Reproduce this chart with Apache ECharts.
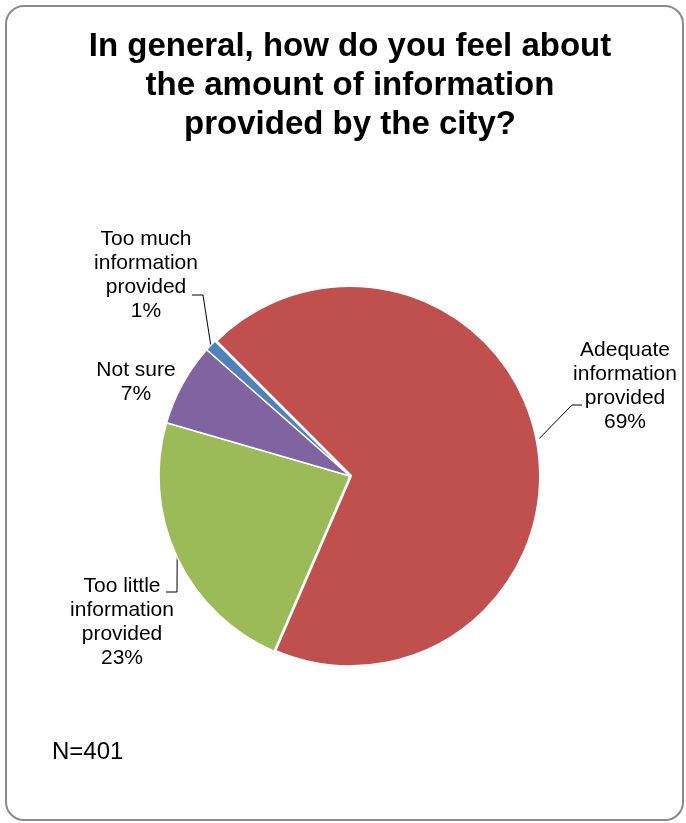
<!DOCTYPE html>
<html>
<head>
<meta charset="utf-8">
<script src="https://cdn.jsdelivr.net/npm/echarts@6/dist/echarts.min.js"></script>
<style>
  html, body { margin: 0; padding: 0; background: #ffffff; }
  #chart { width: 686px; height: 823px; }
</style>
</head>
<body>
<div id="chart"></div>
<script>
// Survey answers, in drawing order (clockwise)
const categories = [
  'Adequate\ninformation\nprovided',
  'Too little\ninformation\nprovided',
  'Not sure',
  'Too much\ninformation\nprovided'
];
const percents = [69, 23, 7, 1];
const sliceColors = ['#C0504D', '#9BBB59', '#8064A2', '#4F81BD'];
const titleText = 'In general, how do you feel about\nthe amount of information\nprovided by the city?';
const sampleNote = 'N=401';

// Where each label block sits, and how its leader line bends before reaching it
const labelSpots = [
  { x: 625, y: 386, elbow: [572, 405], end: [582, 405] },
  { x: 122, y: 622, elbow: [177, 592], end: [166, 592] },
  { x: 136, y: 382, elbow: null, end: null },
  { x: 146, y: 275, elbow: [203, 295], end: [192, 295] }
];
// The large slice is set slightly apart from the rest by a wider white edge
const sliceEdges = [4, 1.5, 1.5, 1.5];

const fontFamily = '"Liberation Sans", Arial, Helvetica, sans-serif';

const chart = echarts.init(document.getElementById('chart'), null, { renderer: 'canvas' });

const seriesData = categories.map((name, i) => ({
  name: name,
  value: percents[i],
  itemStyle: { color: sliceColors[i], borderColor: '#ffffff', borderWidth: sliceEdges[i] },
  labelLine: { show: labelSpots[i].elbow !== null }
}));

chart.setOption({
  animation: false,
  backgroundColor: '#ffffff',
  title: {
    text: titleText,
    left: 350,
    top: 27,
    padding: 0,
    textAlign: 'center',
    textStyle: {
      fontFamily: fontFamily,
      fontSize: 33,
      fontWeight: 'bold',
      lineHeight: 39,
      color: '#000000'
    }
  },
  graphic: [
    {
      type: 'rect',
      shape: { x: 6, y: 6, width: 677, height: 814, r: 18 },
      style: { fill: 'none', stroke: '#8a8a8a', lineWidth: 2 },
      silent: true,
      z: 0
    },
    {
      type: 'text',
      left: 52,
      top: 740,
      style: {
        text: sampleNote,
        font: '24px ' + fontFamily,
        fill: '#000000'
      }
    }
  ],
  series: [
    {
      type: 'pie',
      center: [350, 476],
      radius: 191,
      startAngle: 135,
      clockwise: true,
      avoidLabelOverlap: false,
      emphasis: { disabled: true },
      data: seriesData,
      label: {
        show: true,
        position: 'outside',
        alignTo: 'none',
        formatter: p => p.name + '\n' + p.value + '%',
        fontFamily: fontFamily,
        fontSize: 21,
        lineHeight: 24,
        color: '#000000',
        align: 'center'
      },
      labelLine: {
        show: true,
        length: 10,
        length2: 10,
        lineStyle: { color: '#000000', width: 1 }
      },
      labelLayout: function (params) {
        const spot = labelSpots[params.dataIndex];
        const out = {
          x: spot.x,
          y: spot.y,
          align: 'center',
          verticalAlign: 'middle'
        };
        if (spot.elbow && params.labelLinePoints) {
          const start = params.labelLinePoints[0];
          out.labelLinePoints = [
            [start[0], start[1]],
            spot.elbow,
            spot.end
          ];
        }
        return out;
      }
    }
  ]
});
</script>
</body>
</html>
